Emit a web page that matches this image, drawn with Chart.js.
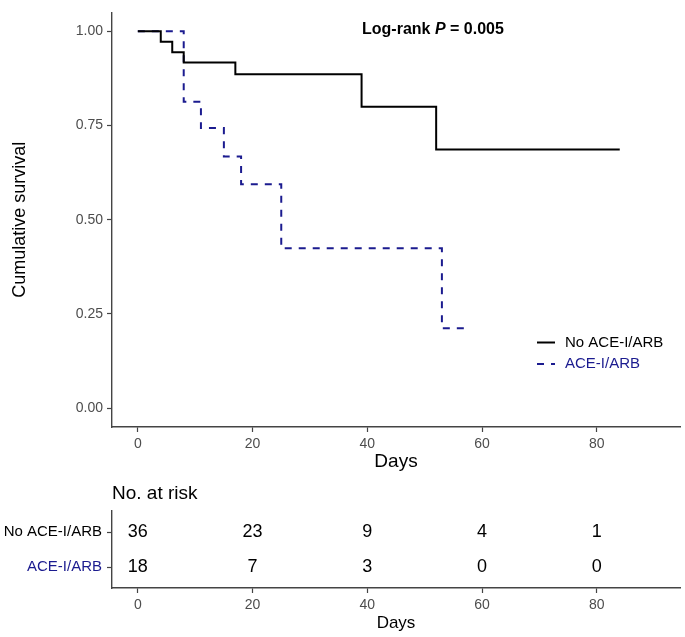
<!DOCTYPE html>
<html>
<head>
<meta charset="utf-8">
<script src="https://cdn.jsdelivr.net/npm/chart.js"></script>
<style>
  body { margin: 0; background: #fff; }
  .wrap { position: relative; width: 685px; height: 637px; }
  #kmChart { position: absolute; left: 0; top: 0; }
  #riskChart { position: absolute; left: 0; top: 475px; }
</style>
</head>
<body>
<div class="wrap">
  <canvas id="kmChart" width="685" height="475"></canvas>
  <canvas id="riskChart" width="685" height="162"></canvas>
</div>
<script>
  // survival curves
  const noAceDays = [0, 4, 6, 8, 17, 39, 52, 84];
  const noAceSurv = [1, 0.972, 0.944, 0.917, 0.886, 0.800, 0.686, 0.686];
  const aceDays = [0, 8, 11, 15, 18, 25, 53, 58];
  const aceSurv = [1, 0.813, 0.743, 0.668, 0.594, 0.424, 0.212, 0.212];

  const groupNames = ["No ACE-I/ARB", "ACE-I/ARB"];
  const groupColors = ["#000000", "#1b1b8f"];

  const dayTicks = [0, 20, 40, 60, 80];
  const survTicks = [0, 0.25, 0.5, 0.75, 1];

  // number at risk table
  const riskTimes = [0, 20, 40, 60, 80];
  const riskNoAce = [36, 23, 9, 4, 1];
  const riskAce = [18, 7, 3, 0, 0];

  const FONT = "'Liberation Sans', Arial, sans-serif";
  Chart.defaults.font.family = FONT;
  Chart.defaults.animation = false;

  const toPts = (xs, ys) => xs.map((x, i) => ({ x, y: ys[i] }));

  const axisBorder = { display: true, color: "#444", width: 1.4 };
  const axisGrid = { drawOnChartArea: false, tickLength: 5, tickColor: "#444", tickWidth: 1.2 };

  const kmExtras = {
    id: "kmExtras",
    afterDraw(chart) {
      const ctx = chart.ctx;
      const area = chart.chartArea;
      ctx.save();
      // log-rank annotation
      ctx.textBaseline = "middle";
      ctx.fillStyle = "#000";
      let x = area.left + 250;
      const y = 30;
      const parts = [["Log-rank ", "bold"], ["P", "italic bold"], [" = 0.005", "bold"]];
      parts.forEach(([t, style]) => {
        ctx.font = style + " 16px " + FONT;
        ctx.fillText(t, x, y);
        x += ctx.measureText(t).width;
      });
      // legend
      const lx = 537, ly = [342.5, 364];
      ctx.font = "15px " + FONT;
      groupNames.forEach((name, i) => {
        ctx.strokeStyle = groupColors[i];
        ctx.lineWidth = 2;
        ctx.setLineDash(i === 1 ? [7, 7] : []);
        ctx.beginPath();
        ctx.moveTo(lx, ly[i]);
        ctx.lineTo(lx + 18, ly[i]);
        ctx.stroke();
        ctx.fillStyle = groupColors[i];
        ctx.fillText(name, lx + 28, ly[i]);
      });
      ctx.restore();
    }
  };

  new Chart(document.getElementById("kmChart"), {
    type: "line",
    data: {
      datasets: [
        {
          label: groupNames[0],
          data: toPts(noAceDays, noAceSurv),
          borderColor: groupColors[0],
          borderWidth: 2,
          stepped: true,
          pointRadius: 0,
          fill: false
        },
        {
          label: groupNames[1],
          data: toPts(aceDays, aceSurv),
          borderColor: groupColors[1],
          borderWidth: 2,
          borderDash: [7, 7],
          stepped: true,
          pointRadius: 0,
          fill: false
        }
      ]
    },
    options: {
      responsive: false,
      layout: { padding: { top: 4, right: 5, left: 0, bottom: 0 } },
      plugins: { legend: { display: false }, tooltip: { enabled: false } },
      scales: {
        x: {
          type: "linear",
          min: -4.5,
          max: 94.5,
          afterBuildTicks: s => { s.ticks = dayTicks.map(v => ({ value: v })); },
          afterFit: s => { s.height = 48; },
          border: axisBorder,
          grid: axisGrid,
          ticks: { color: "#4d4d4d", font: { size: 14 }, padding: 4 },
          title: { display: true, text: "Days", color: "#000", font: { size: 19 }, padding: { top: 0, bottom: 2 } }
        },
        y: {
          type: "linear",
          min: -0.05,
          max: 1.05,
          afterBuildTicks: s => { s.ticks = survTicks.map(v => ({ value: v })); },
          afterFit: s => { s.width = 112; },
          border: axisBorder,
          grid: axisGrid,
          ticks: { color: "#4d4d4d", font: { size: 14 }, padding: 4, callback: v => v.toFixed(2) },
          title: { display: true, text: "Cumulative survival", color: "#000", font: { size: 18 }, padding: { top: 9, bottom: 0 } }
        }
      }
    },
    plugins: [kmExtras]
  });

  const riskRows = [riskNoAce, riskAce];

  const riskExtras = {
    id: "riskExtras",
    afterDraw(chart) {
      const ctx = chart.ctx;
      const xs = chart.scales.x, ys = chart.scales.y;
      ctx.save();
      ctx.fillStyle = "#000";
      ctx.textBaseline = "middle";
      ctx.font = "19px " + FONT;
      ctx.textAlign = "left";
      ctx.fillText("No. at risk", chart.chartArea.left, 19);
      ctx.font = "18px " + FONT;
      ctx.textAlign = "center";
      riskRows.forEach((row, r) => {
        row.forEach((n, i) => {
          ctx.fillText(String(n), xs.getPixelForValue(riskTimes[i]), ys.getPixelForValue(r + 1));
        });
      });
      ctx.restore();
    }
  };

  new Chart(document.getElementById("riskChart"), {
    type: "scatter",
    data: { datasets: [{ data: [], pointRadius: 0 }] },
    options: {
      responsive: false,
      layout: { padding: { top: 36, right: 5, left: 0, bottom: 0 } },
      plugins: { legend: { display: false }, tooltip: { enabled: false } },
      scales: {
        x: {
          type: "linear",
          min: -4.5,
          max: 94.5,
          afterBuildTicks: s => { s.ticks = riskTimes.map(v => ({ value: v })); },
          afterFit: s => { s.height = 49; },
          border: axisBorder,
          grid: axisGrid,
          ticks: { color: "#4d4d4d", font: { size: 14 }, padding: 4 },
          title: { display: true, text: "Days", color: "#000", font: { size: 17 }, padding: { top: 0, bottom: 3 } }
        },
        y: {
          type: "linear",
          reverse: true,
          min: 0.4,
          max: 2.6,
          afterBuildTicks: s => { s.ticks = [1, 2].map(v => ({ value: v })); },
          afterFit: s => { s.width = 112; },
          border: axisBorder,
          grid: axisGrid,
          ticks: {
            font: { size: 15 },
            padding: 5,
            color: c => groupColors[c.index],
            callback: (v, i) => groupNames[i]
          }
        }
      }
    },
    plugins: [riskExtras]
  });
</script>
</body>
</html>
